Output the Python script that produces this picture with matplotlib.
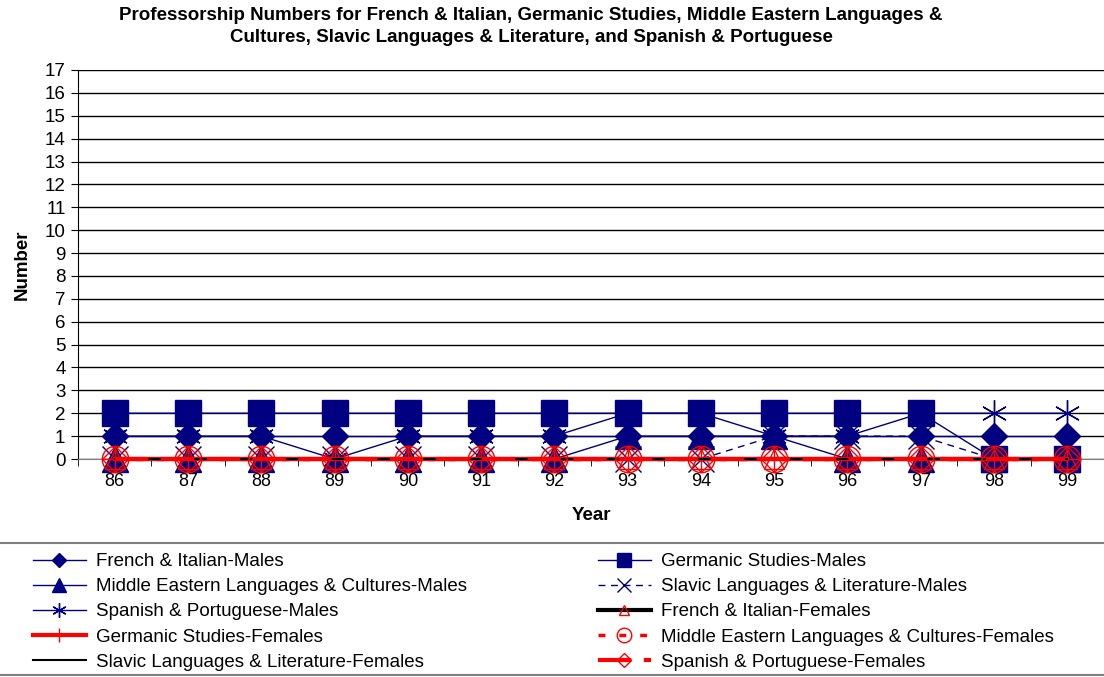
import numpy as np
import matplotlib.pyplot as plt
from matplotlib.lines import Line2D

plt.rcParams['font.family'] = ['Liberation Sans', 'DejaVu Sans']

years = ['86', '87', '88', '89', '90', '91', '92', '93', '94', '95', '96', '97', '98', '99']
french_m = [1, 1, 1, 1, 1, 1, 1, 1, 1, 1, 1, 1, 1, 1]
germanic_m = [2, 2, 2, 2, 2, 2, 2, 2, 2, 2, 2, 2, 0, 0]
mideast_m = [0, 0, 0, 0, 0, 0, 0, 1, 1, 1, 0, 0, 0, 0]
slavic_m = [0, 0, 0, 0, 0, 0, 0, 0, 0, 1, 1, 1, 0, 0]
spanish_m = [1, 1, 1, 0, 1, 1, 1, 2, 2, 1, 1, 2, 2, 2]
french_f = [0, 0, 0, 0, 0, 0, 0, 0, 0, 0, 0, 0, 0, 0]
germanic_f = [0, 0, 0, 0, 0, 0, 0, 0, 0, 0, 0, 0, 0, 0]
mideast_f = [0, 0, 0, 0, 0, 0, 0, 0, 0, 0, 0, 0, 0, 0]
slavic_f = [0, 0, 0, 0, 0, 0, 0, 0, 0, 0, 0, 0, 0, 0]
spanish_f = [0, 0, 0, 0, 0, 0, 0, 0, 0, 0, 0, 0, 0, 0]

navy = '#000080'
red = '#FF0000'
x = np.arange(len(years))

fig = plt.figure(figsize=(11.04, 6.77), dpi=100)
ax = fig.add_axes([78 / 1104, 1 - 459 / 677, 1 - 78 / 1104, (459 - 70) / 677])

series = [
    (french_m, 'French & Italian-Males', dict(color=navy, lw=1, marker='D', ms=13.5, mfc=navy, mec=navy)),
    (germanic_m, 'Germanic Studies-Males', dict(color=navy, lw=1, marker='s', ms=19, mfc=navy, mec=navy)),
    (mideast_m, 'Middle Eastern Languages & Cultures-Males', dict(color=navy, lw=1, marker='^', ms=18.5, mfc=navy, mec=navy)),
    (slavic_m, 'Slavic Languages & Literature-Males', dict(color=navy, lw=1, ls=(0, (5, 4)), marker='x', ms=19, mec=navy, mew=1)),
    (spanish_m, 'Spanish & Portuguese-Males', dict(color=navy, lw=1, marker=(6, 2, 0), ms=19, mec=navy, mew=1)),
    (french_f, 'French & Italian-Females', dict(color='black', lw=3, marker='^', ms=14, mfc='none', mec=red, mew=1)),
    (germanic_f, 'Germanic Studies-Females', dict(color=red, lw=3, marker='+', ms=19, mec=red, mew=1)),
    (mideast_f, 'Middle Eastern Languages & Cultures-Females', dict(color=red, lw=2.5, ls=(0, (2, 4)), marker='o', ms=19, mfc='none', mec=red, mew=1)),
    (slavic_f, 'Slavic Languages & Literature-Females', dict(color='black', lw=1.5)),
    (spanish_f, 'Spanish & Portuguese-Females', dict(color=red, lw=3, ls=(0, (8, 3)), marker='D', ms=13.5, mfc='none', mec=red, mew=1)),
]

handles = []
for i, (vals, label, kw) in enumerate(series):
    h, = ax.plot(x, vals, label=label, clip_on=False, zorder=3 + i, **kw)
    handles.append(h)

ax.set_xlim(-0.5, len(years) - 0.5)
ax.set_ylim(0, 17)
ax.set_yticks(range(0, 18))
ax.grid(axis='y', color='black', lw=1)
ax.set_axisbelow(True)
ax.set_xticks(x)
ax.set_xticklabels(years)
ax.set_xticks(np.arange(-0.5, len(years)), minor=True)
ax.tick_params(axis='x', which='major', length=0, pad=10, labelsize=13)
ax.tick_params(axis='x', which='minor', length=5, direction='out')
ax.tick_params(axis='y', length=5, labelsize=13.5, pad=4)
for lbl in ax.get_xticklabels():
    lbl.set_zorder(20)
    lbl.set_bbox(dict(facecolor='white', edgecolor='none', pad=0.5))
ax.spines['top'].set_visible(False)
ax.spines['right'].set_visible(False)
ax.spines['bottom'].set_color('#808080')
ax.set_xlabel('Year', fontsize=13.5, fontweight='bold', labelpad=12)
ax.set_ylabel('Number', fontsize=13.5, fontweight='bold', labelpad=10)

fig.text(531 / 1104, 1 - 15 / 677, 'Professorship Numbers for French & Italian, Germanic Studies, Middle Eastern Languages &',
         ha='center', va='center', fontsize=13.5, fontweight='bold')
fig.text(531 / 1104, 1 - 38 / 677, 'Cultures, Slavic Languages & Literature, and Spanish & Portuguese',
         ha='center', va='center', fontsize=13.5, fontweight='bold')

# legend frame lines
for yp in (543, 675):
    fig.add_artist(Line2D([0, 1], [1 - yp / 677] * 2, color='#808080', lw=1.5, transform=fig.transFigure))

col1 = [handles[0], handles[2], handles[4], handles[6], handles[8]]
col2 = [handles[1], handles[3], handles[5], handles[7], handles[9]]
for hs, xa in ((col1, 33 / 1104), (col2, 598 / 1104)):
    fig.legend(handles=hs, labels=[h.get_label() for h in hs], loc='upper left',
               bbox_to_anchor=(xa, 1 - 553 / 677), frameon=False, fontsize=13.5,
               borderpad=0, borderaxespad=0, handlelength=2.8, handletextpad=0.55,
               labelspacing=0.43, markerscale=0.55)

fig.savefig('out.png', dpi=100)
